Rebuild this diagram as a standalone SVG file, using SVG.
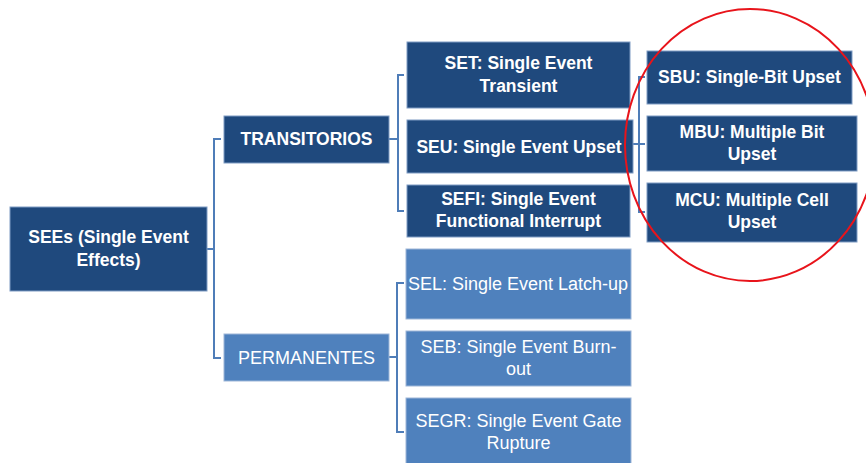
<svg xmlns="http://www.w3.org/2000/svg" width="866" height="463" viewBox="0 0 866 463">
<style>
.dk{fill:#1F497D;stroke:#7f9cc4;stroke-width:1}
.lt{fill:#4F81BD;stroke:#9db6d8;stroke-width:1}
.tb{font-family:"Liberation Sans",Arial,sans-serif;font-weight:bold;font-size:17.5px;fill:#fff;text-anchor:middle}
.tr{font-family:"Liberation Sans",Arial,sans-serif;font-size:18px;fill:#fff;text-anchor:middle}
.c{fill:none;stroke:#4F7DB8;stroke-width:2}
</style>
<rect width="866" height="463" fill="#fff"/>
<g id="connectors">
<path class="c" d="M207,249H214M221,139H214V358H221"/>
<path class="c" d="M389,139H398M404,75H398V211H404"/>
<path class="c" d="M389,357H397M404,283H397V432H404"/>
<path class="c" d="M633,144H645M645,77H639V212H645"/>
</g>
<g id="n-sees"><rect class="dk" x="10" y="207" width="197" height="84"/><text class="tb" x="108.5" y="243">SEEs (Single Event</text><text class="tb" x="108.5" y="266">Effects)</text></g>
<g id="n-trans"><rect class="dk" x="224" y="116" width="165" height="47"/><text class="tb" x="306.5" y="145">TRANSITORIOS</text></g>
<g id="n-perm"><rect class="lt" x="224" y="334" width="165" height="47"/><text class="tr" x="306.5" y="364">PERMANENTES</text></g>
<g id="n-set"><rect class="dk" x="407" y="42" width="223" height="66"/><text class="tb" x="518.5" y="69">SET: Single Event</text><text class="tb" x="518.5" y="92">Transient</text></g>
<g id="n-seu"><rect class="dk" x="407" y="120" width="226" height="53"/><text class="tb" x="519" y="153">SEU: Single Event Upset</text></g>
<g id="n-sefi"><rect class="dk" x="407" y="185" width="223" height="52"/><text class="tb" x="518.5" y="205">SEFI: Single Event</text><text class="tb" x="518.5" y="227">Functional Interrupt</text></g>
<g id="n-sel"><rect class="lt" x="406" y="249" width="225" height="70"/><text class="tr" x="518" y="290">SEL: Single Event Latch-up</text></g>
<g id="n-seb"><rect class="lt" x="406" y="331" width="225" height="55"/><text class="tr" x="518.5" y="353">SEB: Single Event Burn-</text><text class="tr" x="518.5" y="375">out</text></g>
<g id="n-segr"><rect class="lt" x="406" y="398" width="225" height="70"/><text class="tr" x="518.5" y="427">SEGR: Single Event Gate</text><text class="tr" x="518.5" y="449">Rupture</text></g>
<g id="n-sbu"><rect class="dk" x="647" y="51" width="205" height="53"/><text class="tb" x="749.5" y="83">SBU: Single-Bit Upset</text></g>
<g id="n-mbu"><rect class="dk" x="647" y="116" width="210" height="55"/><text class="tb" x="752" y="138">MBU: Multiple Bit</text><text class="tb" x="752" y="160">Upset</text></g>
<g id="n-mcu"><rect class="dk" x="647" y="183" width="210" height="59"/><text class="tb" x="752" y="206">MCU: Multiple Cell</text><text class="tb" x="752" y="228">Upset</text></g>
<ellipse cx="750" cy="145" rx="125" ry="136" fill="none" stroke="#E8141B" stroke-width="2"/>
</svg>
